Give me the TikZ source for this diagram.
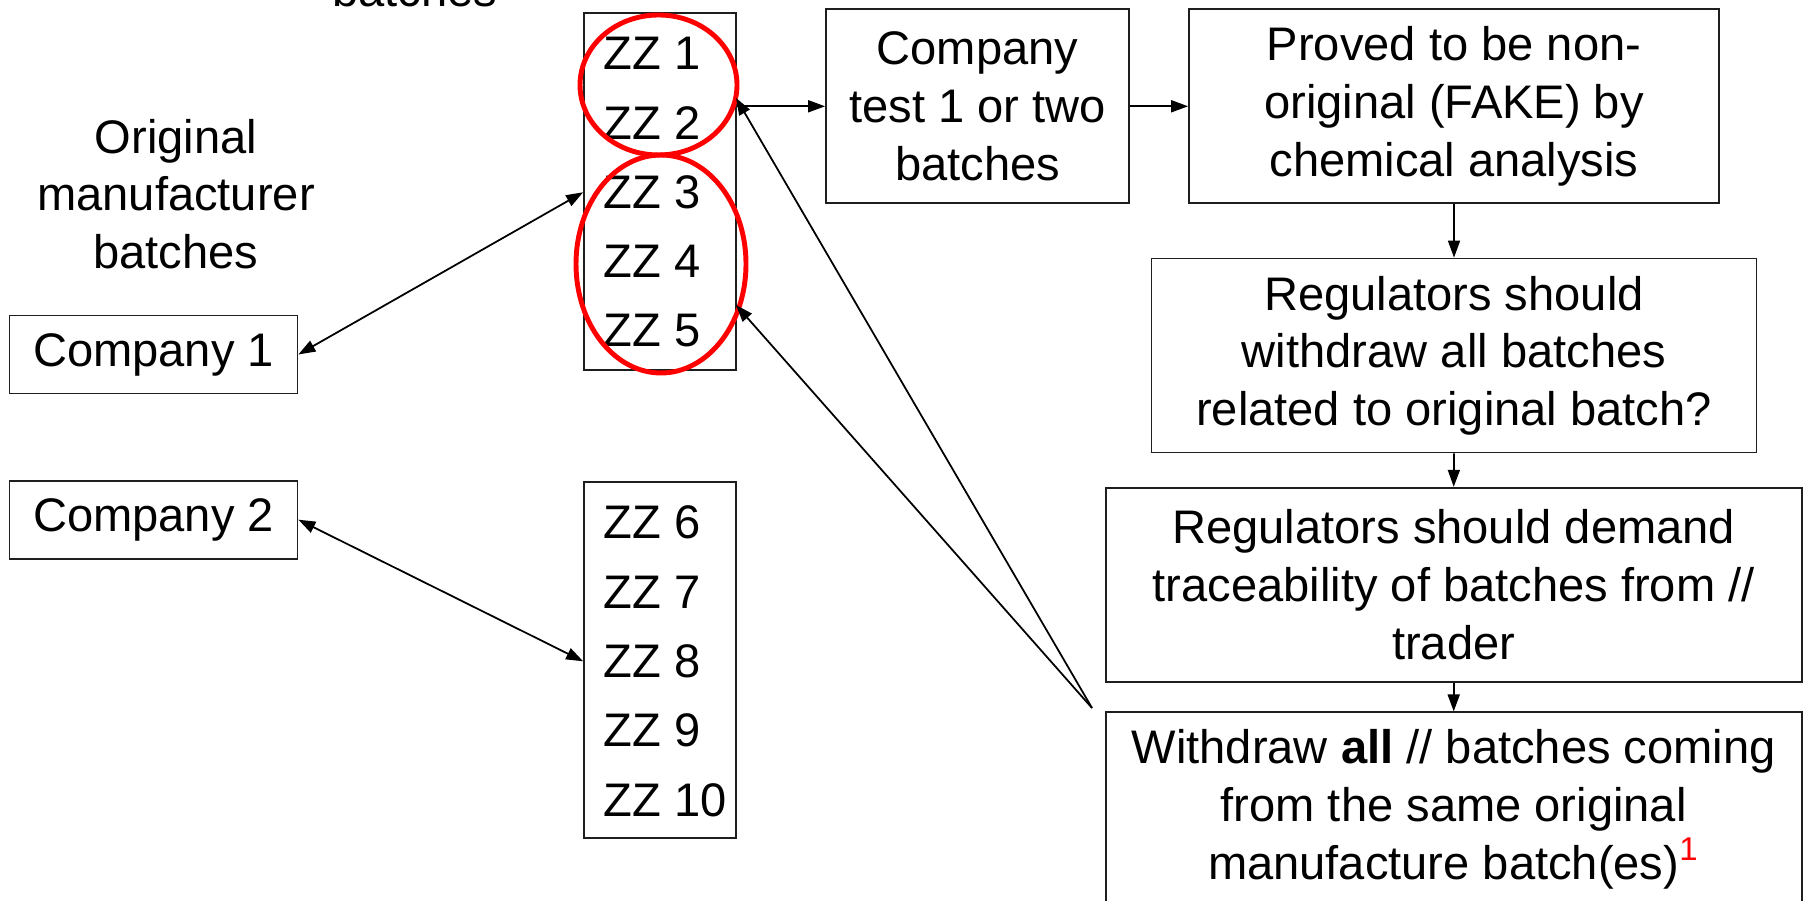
\documentclass[tikz,border=0pt]{standalone}
\usepackage{fontspec}
\setmainfont{Liberation Sans}
\usetikzlibrary{arrows.meta,positioning}

\begin{document}
\begin{tikzpicture}[x=0.1mm,y=-0.1mm,
    every node/.style={font=\fontsize{13.4}{16.4}\selectfont},
    box/.style={draw=boxgray,line width=0.5pt,align=center,inner sep=0pt},
    item/.style={anchor=base west,inner sep=0pt},
    ring/.style={draw=ringred,line width=1.4pt},
    link/.style={-{Triangle[length=1.7mm,width=1.2mm]},line width=0.5pt},
    both/.style={{Triangle[length=1.7mm,width=1.2mm]}-{Triangle[length=1.7mm,width=1.2mm]},line width=0.5pt}]
    % Define colours
    \definecolor{ringred}{RGB}{255,0,0}
    \definecolor{boxgray}{RGB}{30,30,30}

    % Frame of the picture, cut what runs over it
    \useasboundingbox (0,0) rectangle (1806,901);
    \clip (0,0) rectangle (1806,901);

    % Labels on the left
    \node[anchor=base] (headcut) at (415,7) {batches};
    \node[align=center] (orig) at (176,194) {Original\\manufacturer\\batches};

    \node[box,minimum width=28.8mm,minimum height=7.8mm] (comp1) at (153.5,354.5) {Company 1};
    \node[box,minimum width=28.8mm,minimum height=7.8mm] (comp2) at (153.5,519.7) {Company 2};

    % Batch lists
    \node[box,minimum width=15.2mm,minimum height=35.7mm] (listA) at (660,191.7) {};
    \node[box,minimum width=15.2mm,minimum height=35.6mm] (listB) at (660,660.2) {};
    \foreach \n [count=\i from 0] in {1,...,5} {
        \node[item] (zz\n) at (603,70+69.25*\i) {ZZ \n};
    }
    \foreach \n [count=\i from 0] in {6,...,10} {
        \node[item] (zz\n) at (603,539+69.25*\i) {ZZ \n};
    }

    % Red rings round the suspect batches
    \draw[ring] (658.5,85) ellipse [x radius=7.85mm, y radius=7mm];
    \draw[ring] (661,264) ellipse [x radius=8.5mm, y radius=10.9mm];

    % Steps on the right
    \node[box,minimum width=30.3mm,minimum height=19.4mm] (test) at (977.5,106.3)
        {Company\\test 1 or two\\batches};
    \node[box,minimum width=53mm,minimum height=19.4mm] (proved) at (1454,106.3)
        {Proved to be non-\\original (FAKE) by\\chemical analysis};
    \node[box,minimum width=60.5mm,minimum height=19.4mm] (askall) at (1454,355.5)
        {Regulators should\\withdraw all batches\\related to original batch?};
    \node[box,minimum width=69.6mm,minimum height=19.4mm] (trace) at (1453.7,584.7)
        {Regulators should demand\\traceability of batches from //\\trader};
    \node[box,minimum width=69.6mm,minimum height=19.4mm] (pullall) at (1453.7,809.3)
        {Withdraw \textbf{all} // batches coming\\from the same original\\manufacture batch(es)\textsuperscript{\color{ringred}1}};

    % Connectors
    \coordinate (tail) at (1092,708);
    \coordinate (hitA) at (736,98);
    \coordinate (hitB) at (736,305);
    \draw[both] (comp1.east) -- (listA.west |- zz3.west);
    \draw[both] (comp2.east) -- (listB.west |- zz8.west);
    \draw[link] (listA.east |- test.west) -- (test.west);
    \draw[link] (test.east) -- (proved.west);
    \draw[link] (proved.south) -- (askall.north);
    \draw[link] (askall.south) -- (trace.north);
    \draw[link] (trace.south) -- (pullall.north);
    \draw[link] (tail) -- (hitA);
    \draw[link] (tail) -- (hitB);

\end{tikzpicture}
\end{document}
